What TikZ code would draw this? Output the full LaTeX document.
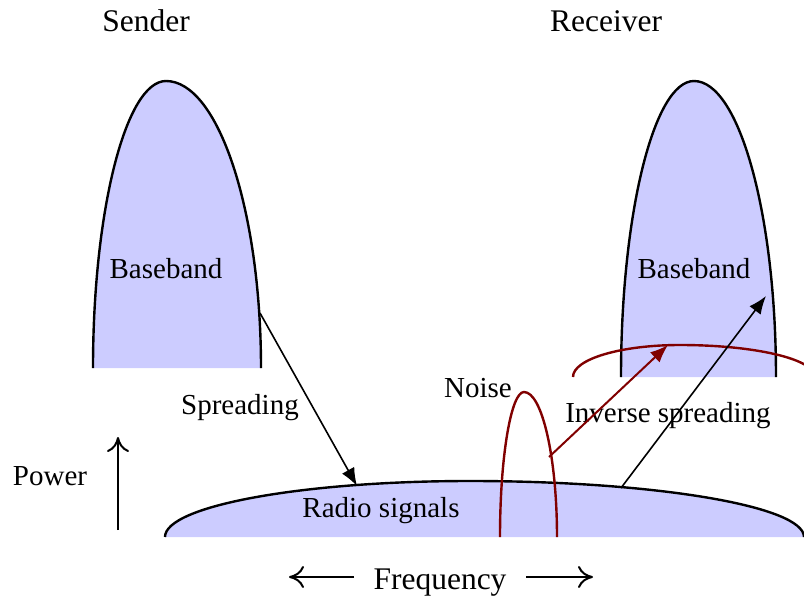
\documentclass[tikz,border=0pt]{standalone}
\usepackage{fontspec}
\setmainfont{LiberationSerif}[Extension=.ttf, UprightFont=*-Regular, BoldFont=*-Bold, ItalicFont=*-Italic]
\usetikzlibrary{arrows.meta}
\definecolor{bandfill}{RGB}{204,204,255}
\definecolor{noisered}{RGB}{128,0,0}
\begin{document}
\begin{tikzpicture}[x=1pt,y=-1pt,
  lbl/.style={font=\fontsize{29}{34}\selectfont, inner sep=0pt, anchor=base},
  biglbl/.style={font=\fontsize{31.5}{36}\selectfont, inner sep=0pt, anchor=base},
  outline/.style={draw=black, line width=2.4pt},
  bandfillst/.style={fill=bandfill},
  redline/.style={draw=noisered, line width=2.4pt},
  conn/.style={draw=black, line width=1.6pt, -{Latex[length=18pt,width=14pt]}},
  redconn/.style={draw=noisered, line width=2pt, -{Latex[length=18pt,width=14pt]}},
  axisarrow/.style={draw=black, line width=2pt, -{Computer Modern Rightarrow[length=15pt,width=22pt]}}]
\useasboundingbox (0,0) rectangle (804,600);
\clip (0,0) rectangle (804,600);

% Sender baseband
\fill[bandfillst] (93,368) .. controls (93,210) and (126,81) .. (166,81)
  .. controls (218,81) and (261,210) .. (261,368) -- cycle;
\draw[outline] (93,368) .. controls (93,210) and (126,81) .. (166,81)
  .. controls (218,81) and (261,210) .. (261,368);

% Receiver baseband
\fill[bandfillst] (621,377) .. controls (621,214) and (654,81) .. (694,81)
  .. controls (739,81) and (776,214) .. (776,377) -- cycle;
\draw[outline] (621,377) .. controls (621,214) and (654,81) .. (694,81)
  .. controls (739,81) and (776,214) .. (776,377);

% Radio signals
\fill[bandfillst] (165,537) .. controls (165,506) and (302,481) .. (470,481)
  .. controls (654,481) and (804,506) .. (804,537) -- cycle;
\draw[outline] (165,537) .. controls (165,506) and (302,481) .. (470,481)
  .. controls (654,481) and (804,506) .. (804,537);

% Noise
\draw[redline] (500,537) .. controls (500,457) and (511,392) .. (524,392)
  .. controls (542,392) and (557,457) .. (557,537);

% Red arc over receiver
\draw[redline] (573,377) .. controls (573,359) and (621,345) .. (680,345)
  .. controls (754.5,345) and (815,359) .. (815,377);

% Labels
\node[biglbl] (sender) at (146,31) {Sender};
\node[biglbl] (receiver) at (606,31) {Receiver};
\node[lbl] (bbl) at (166,278) {Baseband};
\node[lbl] (bbr) at (694,278) {Baseband};
\node[lbl] (spreading) at (240,414) {Spreading};
\node[lbl] (noise) at (478,397) {Noise};
\node[lbl] (inverse) at (668,422) {Inverse spreading};
\node[lbl] (radio) at (381,517) {Radio signals};
\node[lbl] (power) at (50,485) {Power};
\node[biglbl] (freq) at (440,589) {Frequency};

% Connector coordinates
\coordinate (spA) at (260,313);
\coordinate (spB) at (357,486);
\coordinate (invA) at (621,488);
\coordinate (invB) at (766,296);
\coordinate (nzA) at (549,457);
\coordinate (nzB) at (668,345);
\coordinate (pwA) at (118,530);
\coordinate (pwB) at (118,437);
\coordinate (flA) at (354,577);
\coordinate (flB) at (289,577);
\coordinate (frA) at (526,577);
\coordinate (frB) at (593,577);

\draw[conn] (spA) -- (spB);
\draw[conn] (invA) -- (invB);
\draw[redconn] (nzA) -- (nzB);
\draw[axisarrow] (pwA) -- (pwB);
\draw[axisarrow] (flA) -- (flB);
\draw[axisarrow] (frA) -- (frB);
\end{tikzpicture}
\end{document}
